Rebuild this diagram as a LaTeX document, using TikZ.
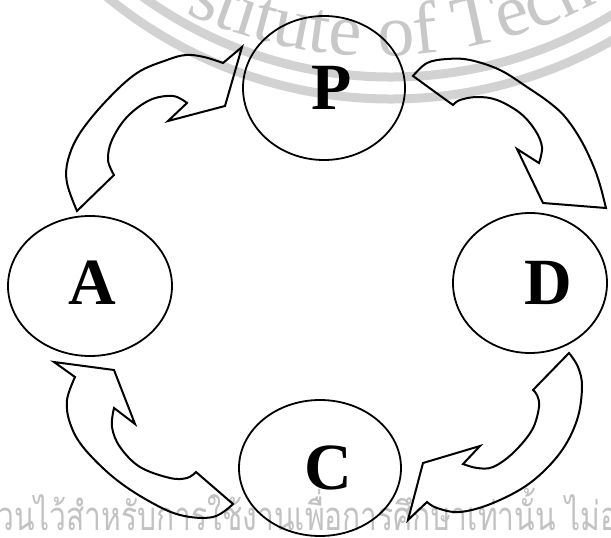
\documentclass[tikz,border=0pt]{standalone}
\usepackage{fontspec}
\setmainfont{Liberation Serif}
\newfontfamily\thaifont[Script=Thai]{Loma}
\newfontfamily\wmfont{Liberation Serif}
\usetikzlibrary{shapes.geometric}
\definecolor{wmgray}{HTML}{D2D2D2}
\definecolor{wmtext}{HTML}{C8C8C8}
\definecolor{thaigray}{HTML}{C2C2C2}
\begin{document}
\begin{tikzpicture}[x=1pt,y=-1pt,
  stage/.style={ellipse, draw, line width=1.8pt, inner sep=0pt,
    font=\fontsize{66}{66}\selectfont\bfseries},
  blockarrow/.style={draw, line width=2pt, line join=miter, miter limit=10},
  wmband/.style={draw=wmgray, line width=9pt},
  wmletter/.style={inner sep=0pt, anchor=base, text=wmtext,
    font=\wmfont\fontsize{74}{74}\selectfont},
  smoothp/.style={smooth, tension=0.6}]
\fill[white] (0,0) rectangle (611,538);
\useasboundingbox (0,0) rectangle (611,538);
\begin{scope}
\clip (0,0) rectangle (611,538);
% watermark seal rings
\draw[wmband] (391pt,347pt) ++(-140:424pt) arc[start angle=-140, end angle=-30, radius=424pt];
\draw[wmband] (391pt,347pt) ++(-140:446pt) arc[start angle=-140, end angle=-30, radius=446pt];
% watermark letters along the seal
\foreach \ch/\c/\w [count=\i] in {s/0/.389, t/.389/.278, i/.667/.278, t/.945/.278,
    u/1.223/.5, t/1.723/.278, e/2.001/.444, o/2.695/.5, f/3.195/.333,
    T/3.778/.611, e/4.389/.444, c/4.833/.444, h/5.277/.5} {
  \pgfmathsetmacro\ang{-114.7 + (\c+\w/2)*74/466*57.2958}
  \pgfmathsetmacro\px{380+466*cos(\ang)}
  \pgfmathsetmacro\py{410+466*sin(\ang)}
  \node[wmletter, rotate=\ang+90] (wm\i) at (\px pt,\py pt) {\ch};
}
% Thai watermark line
\node[anchor=base west, inner sep=0pt, text=thaigray,
  font=\thaifont\fontsize{40}{40}\selectfont] (thai) at (-3,530)
  {\scalebox{0.75}[1]{วนไว้สำหรับการใช้งานเพื่อการศึกษาเท่านั้น ไม่อ}};
% stages
\node[stage, minimum width=162pt, minimum height=144pt] (P) at (324,88) {\hspace*{16pt}P};
\node[stage, minimum width=164pt, minimum height=140pt] (A) at (90,286) {\hspace*{4pt}\raisebox{7pt}{A}};
\node[stage, minimum width=154pt, minimum height=140pt] (D) at (530,283) {\hspace*{36pt}D};
\node[stage, minimum width=162pt, minimum height=136pt] (C) at (320,468) {\hspace*{16pt}C};
% A -> P
\draw[blockarrow] plot[smoothp] coordinates {(77,211) (67,183) (68,160) (80,133) (107,100) (137,73) (167,60) (186,55) (204,57) (223,63)}
  -- (242,47) -- (225,106) -- (168,121)
  -- plot[smoothp] coordinates {(187,103) (173,96) (150,100) (127,117) (112,140) (108,160) (114,175)}
  -- cycle;
% P -> D
\draw[blockarrow] plot[smoothp] coordinates {(413,76) (427,63) (447,59) (470,60) (500,70) (527,87) (550,103) (566,118) (582,142) (595,170) (602,192)}
  -- (606,208) -- (543,203) -- (517,149)
  -- plot[smoothp] coordinates {(539,163) (542,147) (535,130) (520,113) (497,100) (477,97) (460,100) (453,105)}
  -- cycle;
% D -> C
\draw[blockarrow] plot[smoothp] coordinates {(569,353) (578,367) (582,387) (577,420) (560,453) (530,483) (493,503) (460,512) (437,508) (427,502)}
  -- (408,520) -- (423,463) -- (480,446)
  -- plot[smoothp] coordinates {(463,464) (477,468) (493,467) (513,453) (532,430) (539,407) (537,395) (533,390)}
  -- cycle;
% C -> A
\draw[blockarrow] plot[smoothp] coordinates {(233,504) (213,517) (180,515) (147,500) (113,477) (83,447) (70,423) (67,400) (75,377)}
  -- (54,362) -- (114,370) -- (135,424)
  -- plot[smoothp] coordinates {(114,408) (112,427) (120,447) (140,467) (170,478) (187,478) (196,472)}
  -- cycle;
\end{scope}
\end{tikzpicture}
\end{document}
